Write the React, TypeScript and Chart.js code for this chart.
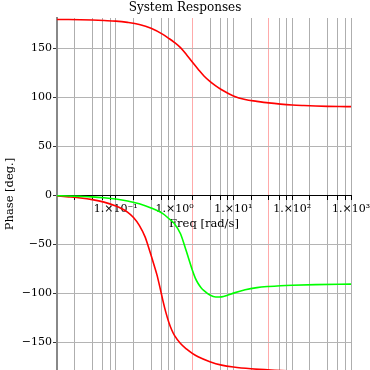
import React, { useEffect, useRef } from "react";
import { Chart, registerables } from "chart.js";

Chart.register(...registerables);

// Upper red curve (phase goes 180 -> 90)
const freqUpper = [0.01, 0.0158, 0.0251, 0.0398, 0.0631, 0.1, 0.158, 0.251, 0.398, 0.631, 0.794, 1.0, 1.26, 1.585, 2.0, 2.512, 3.16, 3.98, 5.01, 6.31, 10, 15.85, 25.1, 39.8, 63.1, 100, 158, 251, 398, 631, 1000];
const phaseUpper = [179.5, 179.4, 179.2, 178.9, 178.4, 177.8, 176.5, 174.4, 170.5, 164.3, 160.3, 156, 150.8, 143.8, 136, 128.8, 121.9, 116.4, 111.8, 107.8, 101.5, 97.8, 96, 94.4, 93.2, 92.3, 91.7, 91.2, 90.9, 90.7, 90.6];

// Green curve (0 -> dip to about -104 -> -90)
const freqGreen = [0.01, 0.0158, 0.0251, 0.0398, 0.0631, 0.1, 0.158, 0.251, 0.398, 0.631, 0.794, 1.0, 1.26, 1.585, 2.0, 2.24, 2.512, 2.82, 3.16, 3.98, 5.01, 6.31, 7.94, 10, 15.85, 25.1, 39.8, 63.1, 100, 251, 1000];
const phaseGreen = [-0.3, -0.5, -0.9, -1.4, -2.3, -3.6, -5.6, -8.5, -12.8, -18.5, -23.5, -29, -39, -57, -76, -84, -89.8, -94, -97, -101.5, -103.6, -103.4, -101.7, -99.6, -96.2, -94, -92.8, -92, -91.5, -90.9, -90.4];

// Lower red curve (0 -> -180)
const freqLower = [0.01, 0.0158, 0.0251, 0.0398, 0.0631, 0.1, 0.126, 0.158, 0.2, 0.251, 0.316, 0.355, 0.398, 0.447, 0.501, 0.562, 0.631, 0.708, 0.794, 0.891, 1.0, 1.26, 1.585, 2.0, 2.512, 3.98, 6.31, 10, 19.95, 50, 100, 1000];
const phaseLower = [-0.5, -1.4, -2.5, -4.2, -6.8, -10.8, -13.5, -17, -22.5, -30.5, -42.5, -51.5, -61, -71, -81, -93.5, -107, -119, -129, -137, -143, -151, -156.5, -161, -164.5, -169.5, -173, -175, -176.8, -178.2, -179, -180];

// Axis ticks / grid
const gridFreqs = [0.01, 0.02, 0.04, 0.06, 0.08, 0.1, 0.2, 0.4, 0.6, 0.8, 1, 2, 4, 6, 8, 10, 20, 40, 60, 80, 100, 200, 400, 600, 800, 1000];
const highlightFreqs = [2, 40];
const labelFreqs = [0.1, 1, 10, 100, 1000];
const labelTexts = ["1.×10⁻¹", "1.×10⁰", "1.×10¹", "1.×10²", "1.×10³"];
const yTicks = [-150, -100, -50, 0, 50, 100, 150];

const same = (a: number, b: number) => Math.abs(a - b) <= Math.abs(b) * 1e-6;

export default function App() {
  const ref = useRef<HTMLCanvasElement>(null);

  useEffect(() => {
    const family = "'DejaVu Serif', serif";
    const toPts = (xs: number[], ys: number[]) => xs.map((x, i) => ({ x, y: ys[i] }));
    const lineStyle = { borderWidth: 1.6, pointRadius: 0, cubicInterpolationMode: "monotone", fill: false };
    const chart = new Chart(ref.current!, {
      type: "line",
      data: {
        datasets: [
          { data: toPts(freqUpper, phaseUpper), borderColor: "#ff0000", ...lineStyle },
          { data: toPts(freqGreen, phaseGreen), borderColor: "#00ff00", ...lineStyle },
          { data: toPts(freqLower, phaseLower), borderColor: "#ff0000", ...lineStyle },
        ],
      },
      options: {
        animation: false,
        responsive: false,
        devicePixelRatio: 1,
        events: [],
        layout: { padding: 0 },
        plugins: {
          legend: { display: false },
          tooltip: { enabled: false },
          title: {
            display: true,
            text: "System Responses",
            color: "#000",
            font: { family, size: 12, weight: "normal" },
            padding: { top: 1, bottom: 2.6 },
          },
        },
        scales: {
          x: {
            type: "logarithmic",
            min: 0.01,
            max: 1000,
            position: { y: 0 },
            afterBuildTicks: (s: any) => {
              s.ticks = gridFreqs.map((v) => ({ value: v }));
            },
            afterFit: (s: any) => {
              s.height = 0;
              s.paddingLeft = 0;
              s.paddingRight = 19;
            },
            grid: {
              color: (c: any) => (c.tick && highlightFreqs.some((h) => same(c.tick.value, h)) ? "rgb(255,170,170)" : "#aeaeae"),
              lineWidth: 1,
              tickColor: "#000",
              tickLength: 4,
            },
            border: { display: true, color: "#000", width: 1 },
            ticks: {
              autoSkip: false,
              maxRotation: 0,
              minRotation: 0,
              padding: 3,
              color: "#000",
              font: { family, size: 11 },
              callback: (v: any) => {
                const idx = labelFreqs.findIndex((l) => same(Number(v), l));
                return idx >= 0 ? labelTexts[idx] : "";
              },
            },
            title: {
              display: true,
              text: "Freq [rad/s]",
              color: "#000",
              font: { family, size: 11.5 },
              padding: { top: 0, bottom: -35.5 },
            },
          },
          y: {
            type: "linear",
            min: -178,
            max: 181,
            afterBuildTicks: (s: any) => {
              s.ticks = yTicks.map((v) => ({ value: v }));
            },
            afterFit: (s: any) => {
              s.width = 57;
              s.paddingTop = 0;
              s.paddingBottom = 0;
            },
            grid: {
              color: (c: any) => (c.tick && c.tick.value === 0 ? "rgba(0,0,0,0)" : "#b4b4b4"),
              lineWidth: 1,
              tickColor: "#333",
              tickLength: 4,
            },
            border: { display: true, color: "#888", width: 2 },
            ticks: {
              padding: 1,
              color: "#000",
              font: { family, size: 11 },
              callback: (v: any) => (Number(v) < 0 ? "−" + Math.abs(Number(v)) : String(v)),
            },
            title: {
              display: true,
              text: "Phase [deg.]",
              color: "#000",
              font: { family, size: 11.5 },
              padding: { top: 3, bottom: 0 },
            },
          },
        },
      } as any,
    });
    return () => chart.destroy();
  }, []);

  return (
    <div style={{ position: "fixed", left: 0, top: 0, width: 370, height: 370, overflow: "hidden", background: "#fff" }}>
      <canvas ref={ref} width={370} height={370} style={{ display: "block", width: 370, height: 370 }} />
    </div>
  );
}
